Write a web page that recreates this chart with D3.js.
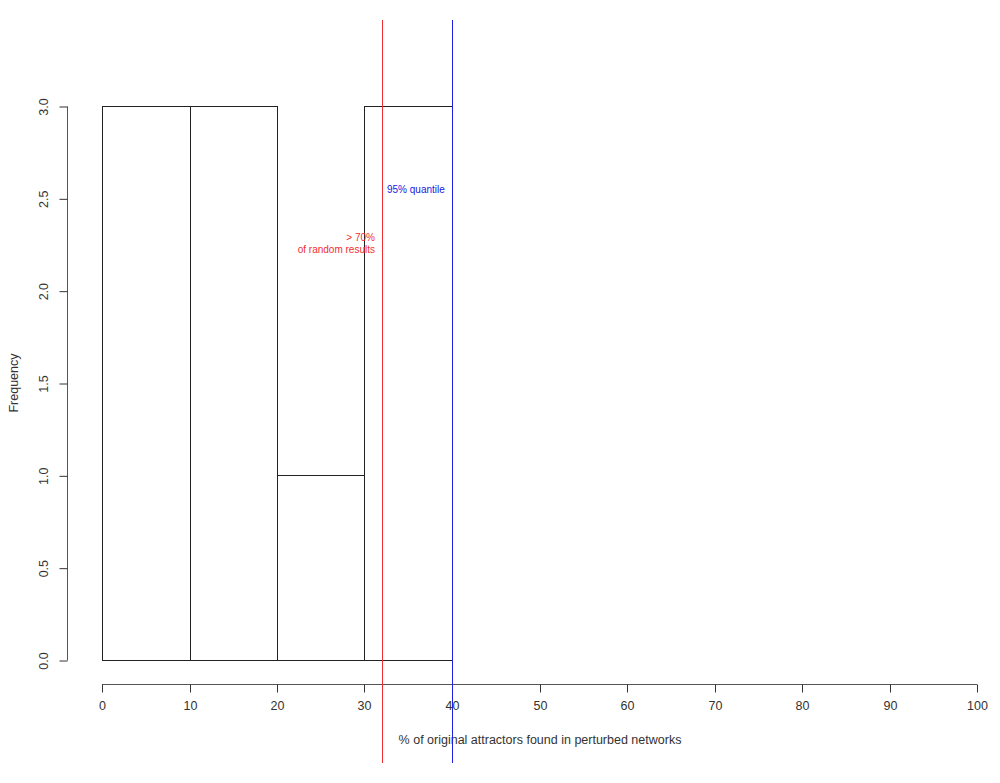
<!DOCTYPE html>
<html><head><meta charset="utf-8">
<script src="https://cdn.jsdelivr.net/npm/d3@7"></script>
<style>body{margin:0;background:#fff;} text{font-family:"Liberation Sans",Arial,sans-serif;}</style>
</head><body>
<svg id="c" width="1000" height="783"></svg>
<script>
const binStarts = [0, 10, 20, 30];
const binEnds = [10, 20, 30, 40];
const counts = [3, 3, 1, 3];
const xTicks = [0,10,20,30,40,50,60,70,80,90,100];
const yTicks = [0,0.5,1,1.5,2,2.5,3];
const redValue = 32;
const blueValue = 40;

const svg = d3.select("#c");
const x = d3.scaleLinear().domain([0,100]).range([102,977]);
const y = d3.scaleLinear().domain([0,3]).range([660,106]);
const rx = v => Math.round(x(v)) + 0.5;

// bars
svg.selectAll("rect.bar").data(counts).enter().append("rect")
  .attr("x",(d,i)=>rx(binStarts[i]))
  .attr("width",(d,i)=>rx(binEnds[i])-rx(binStarts[i]))
  .attr("y",d=>Math.round(y(d))+0.5)
  .attr("height",d=>y(0)-Math.round(y(d)))
  .attr("fill","none").attr("stroke","#222").attr("stroke-width",1);

// x axis
const xa = svg.append("g").attr("transform","translate(0,684.5)")
  .call(d3.axisBottom(x).tickValues(xTicks).tickSize(8).tickPadding(9).tickFormat(d3.format("d")));
xa.selectAll(".tick").attr("transform",d=>`translate(${rx(d)},0)`);
xa.select(".domain").attr("stroke","#555").attr("d","M102,0H977");
xa.selectAll(".tick line").attr("stroke","#333");
xa.selectAll("text").attr("font-size",12.5).attr("fill","#333").style("font-family","Liberation Sans, Arial, sans-serif");

// y axis
const ya = svg.append("g").attr("transform","translate(67.5,0.5)")
  .call(d3.axisLeft(y).tickValues(yTicks).tickSize(8).tickPadding(0).tickFormat(d3.format(".1f")));
ya.select(".domain").attr("stroke","#555").attr("d","M0,106V660");
ya.selectAll(".tick line").attr("stroke","#333");
ya.selectAll(".tick text").attr("font-size",12.5).attr("fill","#333")
  .attr("text-anchor","middle").attr("x",0).attr("dy",0)
  .attr("transform","translate(-20,0) rotate(-90)")
  .style("font-family","Liberation Sans, Arial, sans-serif");

// titles
svg.append("text").attr("x",540).attr("y",744).attr("text-anchor","middle")
  .attr("font-size",12.5).attr("fill","#333").text("% of original attractors found in perturbed networks");
svg.append("text").attr("transform","translate(18,383) rotate(-90)").attr("text-anchor","middle")
  .attr("font-size",12.5).attr("fill","#333").text("Frequency");

// vertical lines
svg.append("line").attr("x1",rx(redValue)).attr("x2",rx(redValue)).attr("y1",20).attr("y2",763)
  .attr("stroke","#f03030").attr("stroke-width",1);
svg.append("line").attr("x1",rx(blueValue)).attr("x2",rx(blueValue)).attr("y1",20).attr("y2",763)
  .attr("stroke","#2020e0").attr("stroke-width",1);

// annotations
svg.append("text").attr("x",x(redValue)+5).attr("y",193).attr("font-size",10).attr("fill","#2020e0").text("95% quantile");
svg.append("text").attr("x",x(redValue)-7).attr("y",241).attr("text-anchor","end").attr("font-size",10).attr("fill","#f03030").text("> 70%");
svg.append("text").attr("x",x(redValue)-7).attr("y",253).attr("text-anchor","end").attr("font-size",10).attr("fill","#f03030").text("of random results");
</script>
</body></html>
